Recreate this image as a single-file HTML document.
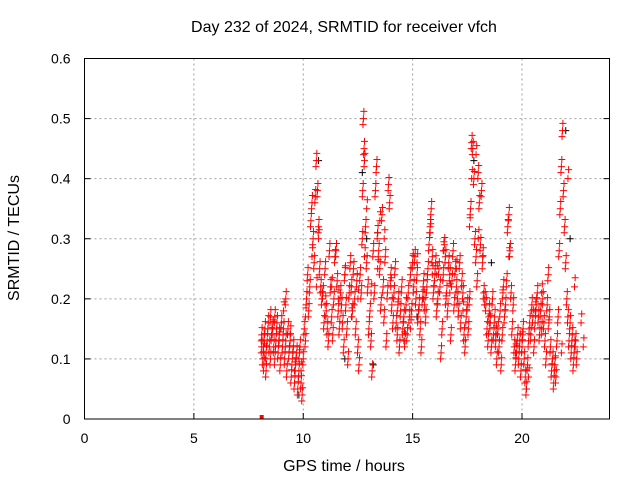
<!DOCTYPE html>
<html><head><meta charset="utf-8"><style>
body{margin:0;background:#fff;}
svg text{font-family:"Liberation Sans",sans-serif;font-size:14px;fill:#000;}
svg text.big{font-size:16px;}
</style></head><body>
<svg id="chart" width="640" height="480" viewBox="0 0 640 480" xmlns="http://www.w3.org/2000/svg">
<rect width="640" height="480" fill="#fff"/>
<text class="big" x="344" y="32" text-anchor="middle">Day 232 of 2024, SRMTID for receiver vfch</text>
<text class="big" x="344" y="471" text-anchor="middle">GPS time / hours</text>
<text class="big" transform="translate(19,238) rotate(-90)" text-anchor="middle">SRMTID / TECUs</text>
<g id="grid"></g>
<g id="axes"></g>
<g id="black"></g>
<g id="red"></g>
<rect x="84.5" y="58.5" width="525" height="360.5" fill="none" stroke="#000" stroke-width="1"/>
</svg>
<script>
const xTicks=[0,5,10,15,20];
const yTicks=[0,0.1,0.2,0.3,0.4,0.5,0.6];
const yTickLabels=["0","0.1","0.2","0.3","0.4","0.5","0.6"];
const redT=[8.1,8.1,8.15,8.2,8.2,8.25,8.3,8.3,8.35,8.4,8.45,8.5,8.5,8.55,8.6,8.65,8.7,8.7,8.75,8.8,8.85,8.9,8.95,9.0,9.05,9.1,9.15,9.2,9.2,9.25,9.3,9.35,9.4,9.45,9.5,9.55,9.6,9.65,9.7,9.75,9.8,9.85,9.9,9.95,10.0,10.05,10.1,10.15,10.2,10.25,10.3,10.35,10.4,10.45,10.5,10.55,10.6,10.65,10.7,10.75,10.8,10.85,10.9,10.95,11.0,11.05,11.1,11.15,11.2,11.25,11.3,11.35,11.4,11.45,11.5,11.55,11.6,11.65,11.7,11.75,11.8,11.85,11.9,11.95,12.0,12.05,12.1,12.15,12.2,12.25,12.3,12.35,12.4,12.45,12.5,12.55,12.6,12.65,12.7,12.72,12.75,12.78,12.8,12.85,12.9,12.95,13.0,13.05,13.1,13.15,13.2,13.25,13.3,13.35,13.4,13.45,13.5,13.55,13.6,13.65,13.7,13.75,13.8,13.85,13.9,13.95,14.0,14.05,14.1,14.15,14.2,14.25,14.3,14.35,14.4,14.45,14.5,14.55,14.6,14.65,14.7,14.75,14.8,14.85,14.9,14.95,15.0,15.05,15.1,15.15,15.2,15.25,15.3,15.35,15.4,15.45,15.5,15.55,15.6,15.65,15.7,15.75,15.8,15.85,15.9,15.95,16.0,16.05,16.1,16.15,16.2,16.25,16.3,16.35,16.4,16.45,16.5,16.55,16.6,16.65,16.7,16.75,16.8,16.85,16.9,16.95,17.0,17.05,17.1,17.15,17.2,17.25,17.3,17.35,17.4,17.45,17.5,17.55,17.6,17.65,17.7,17.75,17.8,17.85,17.9,17.95,18.0,18.05,18.1,18.15,18.2,18.25,18.3,18.35,18.4,18.45,18.5,18.55,18.6,18.65,18.7,18.75,18.8,18.85,18.9,18.95,19.0,19.05,19.1,19.15,19.2,19.25,19.3,19.35,19.4,19.45,19.5,19.55,19.6,19.65,19.7,19.75,19.8,19.85,19.9,19.95,20.0,20.05,20.1,20.15,20.2,20.25,20.3,20.35,20.4,20.45,20.5,20.55,20.6,20.65,20.7,20.75,20.8,20.85,20.9,20.95,21.0,21.05,21.1,21.15,21.2,21.25,21.3,21.35,21.4,21.45,21.5,21.55,21.6,21.65,21.7,21.75,21.8,21.85,21.9,21.95,22.0,22.05,22.1,22.15,22.2,22.25,22.3,22.35,22.4,22.45,22.5,22.55,22.6,22.65,22.7,22.75,22.8,22.85,22.9];
const redV=[0.14,0.12,0.10,0.13,0.09,0.15,0.11,0.08,0.13,0.16,0.12,0.17,0.10,0.14,0.15,0.12,0.17,0.10,0.13,0.16,0.11,0.14,0.09,0.16,0.12,0.15,0.10,0.13,0.20,0.08,0.15,0.11,0.13,0.07,0.10,0.12,0.06,0.09,0.11,0.05,0.08,0.12,0.06,0.04,0.10,0.15,0.13,0.20,0.24,0.18,0.22,0.33,0.36,0.30,0.26,0.37,0.43,0.38,0.32,0.25,0.22,0.20,0.21,0.16,0.25,0.18,0.15,0.13,0.28,0.22,0.17,0.14,0.20,0.27,0.28,0.23,0.18,0.15,0.21,0.19,0.16,0.12,0.24,0.19,0.15,0.10,0.21,0.26,0.22,0.18,0.25,0.20,0.15,0.23,0.12,0.09,0.24,0.21,0.30,0.38,0.50,0.45,0.43,0.32,0.26,0.22,0.15,0.18,0.13,0.08,0.28,0.21,0.38,0.42,0.31,0.28,0.25,0.19,0.34,0.22,0.17,0.27,0.13,0.21,0.39,0.36,0.24,0.19,0.16,0.21,0.25,0.16,0.14,0.20,0.12,0.18,0.22,0.15,0.17,0.13,0.19,0.14,0.21,0.17,0.24,0.18,0.26,0.22,0.27,0.20,0.24,0.17,0.19,0.15,0.12,0.20,0.23,0.19,0.17,0.22,0.25,0.29,0.32,0.35,0.27,0.21,0.23,0.26,0.18,0.20,0.25,0.22,0.11,0.15,0.24,0.29,0.27,0.21,0.18,0.26,0.24,0.14,0.23,0.28,0.19,0.25,0.22,0.20,0.18,0.26,0.16,0.23,0.21,0.14,0.12,0.17,0.19,0.15,0.20,0.35,0.46,0.45,0.40,0.30,0.27,0.23,0.41,0.36,0.29,0.38,0.26,0.21,0.20,0.19,0.15,0.13,0.18,0.16,0.12,0.20,0.14,0.17,0.13,0.10,0.15,0.12,0.18,0.09,0.14,0.22,0.17,0.19,0.23,0.32,0.34,0.28,0.21,0.15,0.19,0.12,0.09,0.11,0.14,0.10,0.13,0.08,0.12,0.15,0.10,0.07,0.05,0.09,0.13,0.16,0.14,0.19,0.17,0.12,0.16,0.19,0.21,0.17,0.14,0.18,0.15,0.20,0.16,0.13,0.10,0.19,0.24,0.17,0.12,0.08,0.10,0.06,0.09,0.07,0.13,0.17,0.28,0.35,0.42,0.48,0.38,0.32,0.26,0.20,0.17,0.13,0.16,0.11,0.14,0.09,0.12,0.13,0.10];
const redT2=[8.2,8.6,8.9,9.1,9.4,9.6,9.8,9.9,10.1,10.4,10.6,10.7,11.0,11.3,11.6,11.9,12.2,12.5,12.8,13.1,13.4,13.7,14.0,14.3,14.6,14.9,15.2,15.5,15.8,16.1,16.4,16.7,17.0,17.3,17.6,17.9,18.2,18.5,18.8,19.1,19.4,19.7,20.0,20.3,20.6,20.9,21.2,21.5,21.8,22.1,22.4,22.7,22.8,15.0,15.9,16.5,17.7,18.0,12.9,13.5];
const redV2=[0.11,0.15,0.13,0.18,0.14,0.08,0.10,0.08,0.17,0.27,0.22,0.30,0.19,0.22,0.20,0.24,0.17,0.20,0.27,0.21,0.25,0.30,0.22,0.18,0.13,0.15,0.26,0.20,0.31,0.24,0.28,0.21,0.25,0.18,0.32,0.44,0.27,0.16,0.14,0.20,0.27,0.11,0.13,0.07,0.18,0.21,0.15,0.09,0.11,0.40,0.22,0.16,0.12,0.26,0.24,0.19,0.40,0.30,0.35,0.33];
const blackT=[9.8,10.7,12.7,12.9,13.4,17.8,20.2,22.0,22.2,13.2,15.2,18.6,11.9];
const blackV=[0.04,0.43,0.41,0.30,0.31,0.43,0.05,0.48,0.30,0.09,0.17,0.26,0.10];
const X0=84.5,X1=609.5,Y0=419,Y1=58.5,XMAX=24,YMAX=0.6;
const xs=t=>X0+(X1-X0)*t/XMAX, ys=v=>Y0-(Y0-Y1)*v/YMAX;
const NS='http://www.w3.org/2000/svg';
function mk(tag,attrs,parent){const e=document.createElementNS(NS,tag);for(const k in attrs)e.setAttribute(k,attrs[k]);parent.appendChild(e);return e;}
const grid=document.getElementById('grid'),axes=document.getElementById('axes');
xTicks.forEach(t=>{const x=xs(t);
 if(t>0){const g=mk('line',{x1:x,x2:x,y1:Y1,y2:Y0,stroke:'#a0a0a0','stroke-dasharray':'2,3'},grid);
 
 }
 const tk=mk('line',{x1:x,x2:x,y1:Y0,y2:Y0-6,stroke:'#000'},axes);
 
 
 const l=mk('text',{x:x,y:Y0+24,'text-anchor':'middle'},axes);l.textContent=String(t);
 
 
});
yTicks.forEach((v,i)=>{const y=ys(v);
 if(v>0&&v<0.6){const g=mk('line',{x1:X0,x2:X1,y1:y,y2:y,stroke:'#a0a0a0','stroke-dasharray':'2,3'},grid);
 
 }
 const tk=mk('line',{x1:X0,x2:X0+6,y1:y,y2:y,stroke:'#000'},axes);
 
 
 const tk2=mk('line',{x1:X1-6,x2:X1,y1:y,y2:y,stroke:'#000'},axes);
 
 
 const l=mk('text',{x:X0-14,y:y+5,'text-anchor':'end'},axes);l.textContent=yTickLabels[i];
 
 
});
function plus(t,v,color,g){const x=xs(t),y=ys(v);
 const p=mk('path',{d:`M${x-3.5},${y}H${x+3.5}M${x},${y-3.5}V${y+3.5}`,stroke:color,'stroke-width':1,fill:'none'},g);
 
 }
const bg=document.getElementById('black'),rg=document.getElementById('red');
blackT.forEach((t,i)=>plus(t,blackV[i],'#000',bg));
redT.forEach((t,i)=>{plus(t,redV[i],'#f00',rg);plus(t+0.02,redV[i]+0.012,'#f00',rg);plus(t-0.02,redV[i]-0.01,'#f00',rg);});
redT2.forEach((t,i)=>{plus(t,redV2[i],'#f00',rg);plus(t+0.03,redV2[i]+0.015,'#f00',rg);});
const sq=mk('rect',{x:xs(8.1)-2,y:Y0-4,width:4,height:4,fill:'#f00'},rg);


</script>
</body></html>
